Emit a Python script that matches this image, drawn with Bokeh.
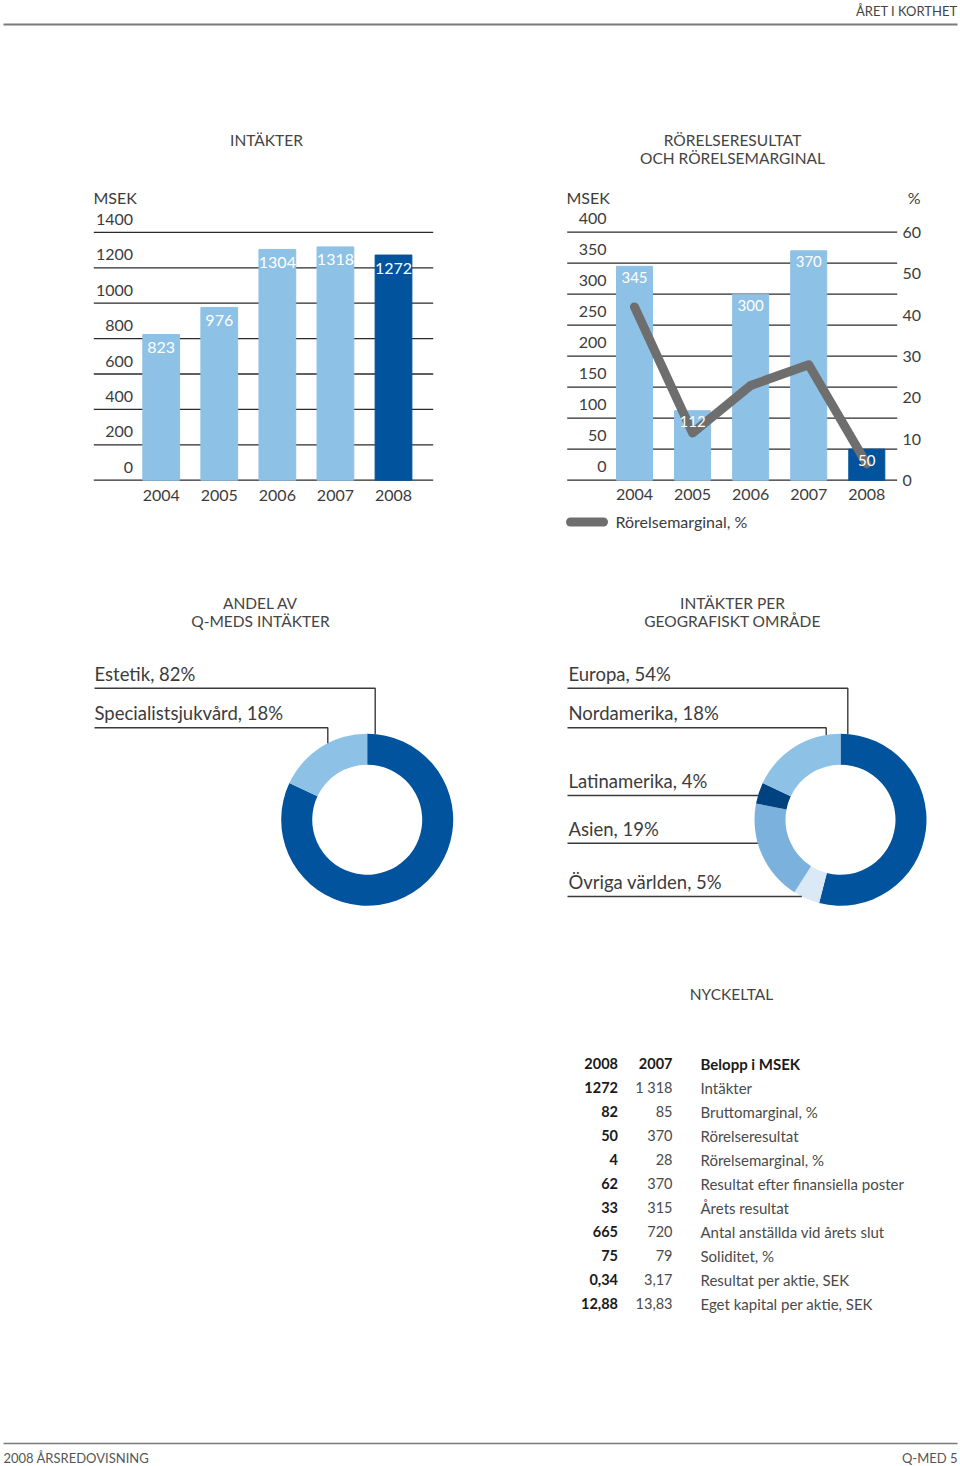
import math
from bokeh.plotting import figure
from bokeh.models import Range1d
from bokeh.core.properties import value
from bokeh.embed import file_html
from bokeh.resources import INLINE

# ---------------- data ----------------
years = ["2004", "2005", "2006", "2007", "2008"]
revenue = [823, 976, 1304, 1318, 1272]
op_result = [345, 112, 300, 370, 50]
op_margin = [42, 11.5, 23, 28, 4]
rev_ticks = [0, 200, 400, 600, 800, 1000, 1200, 1400]
op_ticks = [0, 50, 100, 150, 200, 250, 300, 350, 400]
pct_ticks = [0, 10, 20, 30, 40, 50, 60]

share_labels = ["Estetik, 82%", "Specialistsjukvård, 18%"]
share_values = [82, 18]

geo_labels = ["Europa, 54%", "Nordamerika, 18%", "Latinamerika, 4%", "Asien, 19%", "Övriga världen, 5%"]
geo_values = [54, 18, 4, 19, 5]
geo_ring_order = [0, 4, 3, 2, 1]  # clockwise from 12 o'clock

kpi_header = ["2008", "2007", "Belopp i MSEK"]
kpi_2008 = ["1272", "82", "50", "4", "62", "33", "665", "75", "0,34", "12,88"]
kpi_2007 = ["1 318", "85", "370", "28", "370", "315", "720", "79", "3,17", "13,83"]
kpi_names = ["Intäkter", "Bruttomarginal, %", "Rörelseresultat", "Rörelsemarginal, %",
             "Resultat efter finansiella poster", "Årets resultat",
             "Antal anställda vid årets slut", "Soliditet, %",
             "Resultat per aktie, SEK", "Eget kapital per aktie, SEK"]

# ---------------- styles ----------------
FONT = value("Lato")
TXT = "#3c3c3c"
LIGHT = "#8dc1e5"
DARK = "#00539c"
GRID = "#2a2a2a"

W, H = 960, 1466
X0, Y0 = 0, 0

p = figure(width=W, height=H, x_range=Range1d(X0, X0 + W), y_range=Range1d(Y0 + H, Y0),
           x_axis_location=None, y_axis_location=None, output_backend="svg",
           toolbar_location=None, min_border=0)
p.grid.visible = False
p.outline_line_color = None
p.background_fill_color = "white"
p.border_fill_color = "white"


def mapped(v0, p0, v1, p1, lo, hi):
    f = lambda px: v0 + (v1 - v0) * (px - p0) / (p1 - p0)
    return Range1d(f(lo), f(hi))


def yr(v0, p0, v1, p1):
    return mapped(v0, p0, v1, p1, Y0 + H, Y0)


def xr(v0, p0, v1, p1):
    return mapped(v0, p0, v1, p1, X0, X0 + W)


idx = list(range(len(years)))
p.extra_x_ranges = {"revx": xr(0, 160.7, 4, 393.0), "opx": xr(0, 634.0, 4, 866.3)}
p.extra_y_ranges = {"rev": yr(0, 479.7, 1400, 231.9),
                    "op": yr(0, 479.7, 400, 231.7),
                    "pct": yr(0, 480.0, 60, 232.0)}


def txt(x, y, t, size="16px", align="left", baseline="middle", color=TXT, style="normal", **kw):
    p.text(x=x, y=y, text=t, text_font=FONT, text_font_size=size, text_align=align,
           text_baseline=baseline, text_color=color, text_font_style=style, **kw)


# ---------------- header / footer ----------------
p.segment(x0=[3], y0=[24], x1=[957], y1=[24], line_color="#7a7a7a", line_width=2)
txt([957], [10], ["ÅRET I KORTHET"], size="13px", align="right", color="#444")
p.segment(x0=[3], y0=[1443], x1=[957], y1=[1443], line_color="#7a7a7a", line_width=1.5)
txt([3], [1457], ["2008 ÅRSREDOVISNING"], size="13px", color="#555")
txt([957], [1457], ["Q-MED 5"], size="13px", align="right", color="#555")

# ---------------- titles ----------------
TS = "15.5px"
txt([266], [139], ["INTÄKTER"], size=TS, align="center", color="#444")
txt([732, 732], [139, 157], ["RÖRELSERESULTAT", "OCH RÖRELSEMARGINAL"], size=TS, align="center", color="#444")
txt([260, 260], [602, 620], ["ANDEL AV", "Q-MEDS INTÄKTER"], size=TS, align="center", color="#444")
txt([732, 732], [602, 620], ["INTÄKTER PER", "GEOGRAFISKT OMRÅDE"], size=TS, align="center", color="#444")
txt([731], [993], ["NYCKELTAL"], size=TS, align="center", color="#444")

# ---------------- revenue bar chart ----------------
p.segment(x0=[93.3] * len(rev_ticks), x1=[432.7] * len(rev_ticks), y0=rev_ticks, y1=rev_ticks,
          y_range_name="rev", line_color=GRID, line_width=1.3)
rev_colors = [LIGHT] * 4 + [DARK]
p.vbar(x=idx, top=revenue, bottom=0, width=0.633, color=rev_colors,
       x_range_name="revx", y_range_name="rev")
p.text(x=[132.5] * len(rev_ticks), y=rev_ticks, text=[str(t) for t in rev_ticks], y_range_name="rev",
       y_offset=-13, text_font=FONT, text_font_size="16px", text_align="right",
       text_baseline="middle", text_color=TXT)
txt([93], [197], ["MSEK"], size="16px")
p.text(x=idx, y=revenue, text=[str(v) for v in revenue], x_range_name="revx", y_range_name="rev",
       y_offset=13, text_font=FONT, text_font_size="16px", text_align="center",
       text_baseline="middle", text_color="white")
p.text(x=idx, y=[0] * 5, text=years, x_range_name="revx", y_range_name="rev", y_offset=15,
       text_font=FONT, text_font_size="16px", text_align="center", text_baseline="middle",
       text_color=TXT)

# ---------------- operating result chart ----------------
p.segment(x0=[566.7] * len(op_ticks), x1=[896.7] * len(op_ticks), y0=op_ticks, y1=op_ticks,
          y_range_name="op", line_color=GRID, line_width=1.3)
op_colors = [LIGHT] * 4 + [DARK]
p.vbar(x=idx, top=op_result, bottom=0, width=0.62, color=op_colors,
       x_range_name="opx", y_range_name="op")
p.text(x=[606] * len(op_ticks), y=op_ticks, text=[str(t) for t in op_ticks], y_range_name="op",
       y_offset=-14, text_font=FONT, text_font_size="16px", text_align="right",
       text_baseline="middle", text_color=TXT)
p.text(x=[902] * len(pct_ticks), y=pct_ticks, text=[str(t) for t in pct_ticks], y_range_name="pct",
       text_font=FONT, text_font_size="16px", text_align="left",
       text_baseline="middle", text_color=TXT)
txt([566], [197], ["MSEK"], size="16px")
txt([920], [197], ["%"], size="16px", align="right")
p.line(x=idx, y=op_margin, x_range_name="opx", y_range_name="pct",
       line_color="#6e6e6e", line_width=9, line_cap="round", line_join="round")
p.text(x=idx, y=op_result, text=[str(v) for v in op_result], x_range_name="opx", y_range_name="op",
       y_offset=11, text_font=FONT, text_font_size="15px", text_align="center",
       text_baseline="middle", text_color="white")
p.text(x=idx, y=[0] * 5, text=years, x_range_name="opx", y_range_name="op", y_offset=14,
       text_font=FONT, text_font_size="16px", text_align="center", text_baseline="middle",
       text_color=TXT)
# legend
p.segment(x0=[570], y0=[521.5], x1=[603], y1=[521.5], line_color="#6e6e6e", line_width=9, line_cap="round")
txt([615], [521], ["Rörelsemarginal, %"], size="16px")

# ---------------- donuts ----------------
R_OUT, R_IN = 86, 55
LEADER = "#3a3a3a"


def donut(cx, cy, vals, colors):
    cum = 0.0
    starts, ends = [], []
    for v in vals:
        c0, c1 = cum, cum + v
        starts.append(math.radians(90 - c1 * 3.6))
        ends.append(math.radians(90 - c0 * 3.6))
        cum = c1
    p.annular_wedge(x=[cx] * len(vals), y=[cy] * len(vals), inner_radius=R_IN, outer_radius=R_OUT,
                    start_angle=starts, end_angle=ends, direction="anticlock",
                    fill_color=colors, line_color=None)


def edge_y(cx, cy, x):
    return cy - math.sqrt(R_OUT ** 2 - (x - cx) ** 2)


def edge_x(cx, cy, y):
    return cx - math.sqrt(R_OUT ** 2 - (y - cy) ** 2)


LS = "18.5px"
# left donut
lcx, lcy = 366.7, 819.2
donut(lcx, lcy, share_values, [DARK, LIGHT])
label_y = [673, 712]
line_y = [687.7, 727.3]
drop_x = [374.7, 327.3]
for i, lab in enumerate(share_labels):
    txt([94], [label_y[i]], [lab], size=LS)
    p.line(x=[94, drop_x[i], drop_x[i]], y=[line_y[i], line_y[i], edge_y(lcx, lcy, drop_x[i])],
           line_color=LEADER, line_width=1.4)

# right donut
rcx, rcy = 840.0, 819.2
geo_colors = {0: DARK, 1: LIGHT, 2: "#00427f", 3: "#7bb2dd", 4: "#dbe8f5"}
donut(rcx, rcy, [geo_values[i] for i in geo_ring_order], [geo_colors[i] for i in geo_ring_order])
g_label_y = [673, 712, 780, 828.5, 881]
g_line_y = [687.7, 727.3, 795.0, 842.7, 896.0]
for i, lab in enumerate(geo_labels):
    txt([568], [g_label_y[i]], [lab], size=LS)
    if i < 2:
        dx = [847.3, 825.7][i]
        p.line(x=[567, dx, dx], y=[g_line_y[i], g_line_y[i], edge_y(rcx, rcy, dx)],
               line_color=LEADER, line_width=1.4)
    else:
        p.line(x=[567, edge_x(rcx, rcy, g_line_y[i])], y=[g_line_y[i], g_line_y[i]],
               line_color=LEADER, line_width=1.4)

# ---------------- key figures table ----------------
ROW0, DY = 1063, 24
NS = "14.5px"
DS = "15px"
txt([617.5], [ROW0], [kpi_header[0]], size=NS, align="right", style="bold", color="#1a1a1a")
txt([672], [ROW0], [kpi_header[1]], size=NS, align="right", style="bold", color="#1a1a1a")
txt([700], [ROW0], [kpi_header[2]], size=DS, style="bold", color="#1a1a1a")
rows_y = [ROW0 + DY * (i + 1) for i in range(len(kpi_names))]
p.text(x=[617.5] * len(rows_y), y=rows_y, text=kpi_2008, text_font=FONT, text_font_size=NS,
       text_align="right", text_baseline="middle", text_color="#1a1a1a", text_font_style="bold")
p.text(x=[672] * len(rows_y), y=rows_y, text=kpi_2007, text_font=FONT, text_font_size=NS,
       text_align="right", text_baseline="middle", text_color="#4a4a4a")
p.text(x=[700] * len(rows_y), y=rows_y, text=kpi_names, text_font=FONT, text_font_size=DS,
       text_align="left", text_baseline="middle", text_color="#4a4a4a")

open("out.html", "w").write(file_html(p, INLINE))
